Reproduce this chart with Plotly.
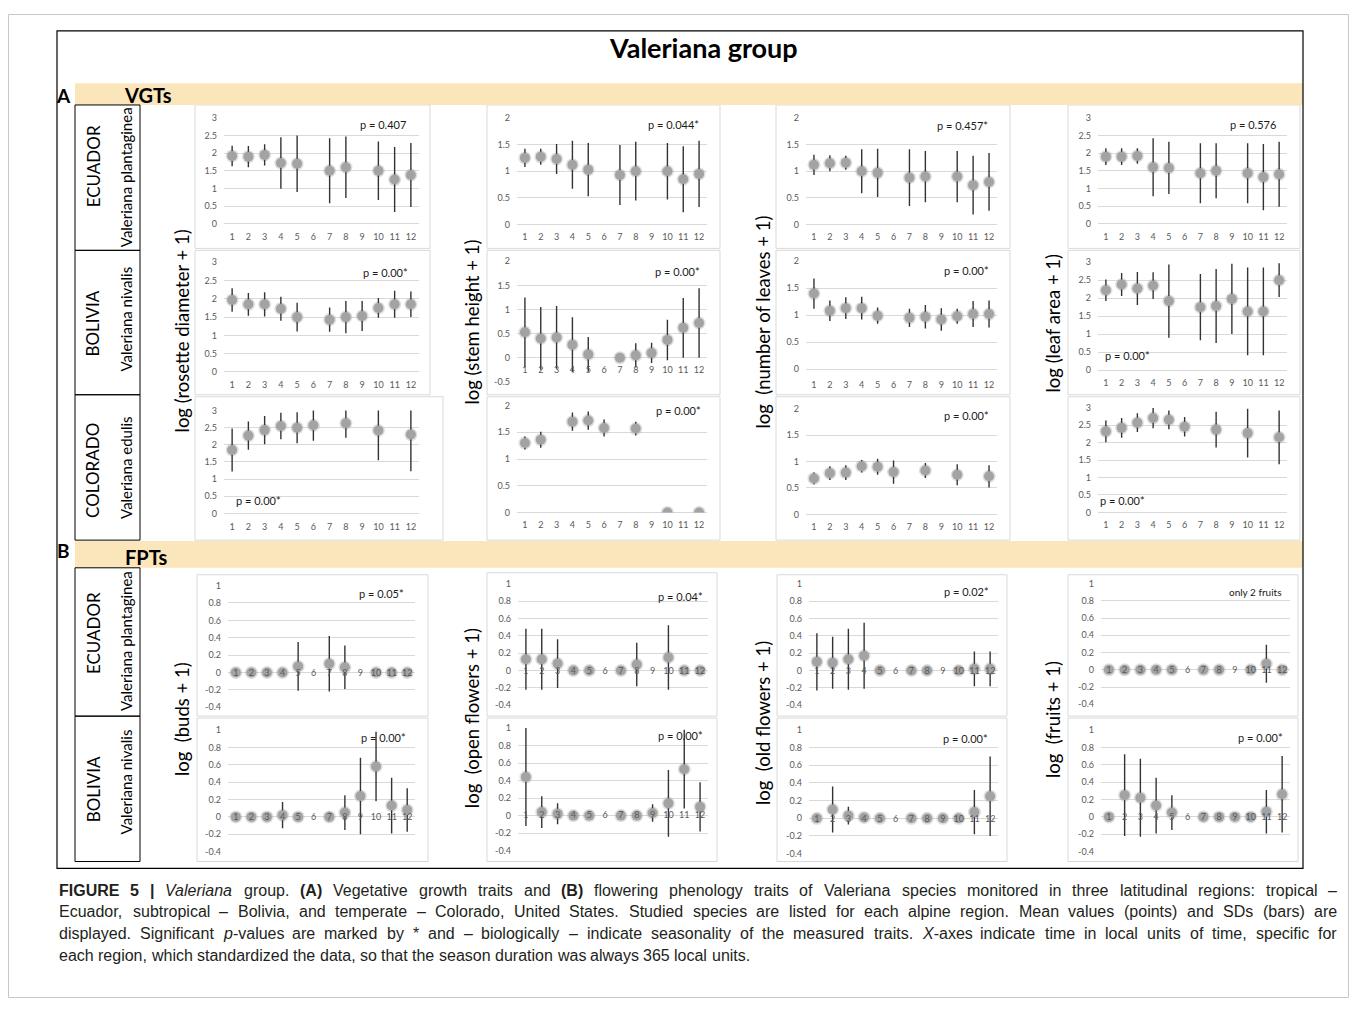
import plotly.graph_objects as go

W, H = 1357, 1011
OFF = 8  # browser page margin
FW, FH = W - 2 * OFF, H - 2 * OFF
FONT = "Lato"
CAP_FONT = "Liberation Sans"


def PX(x):
    return (x - OFF) / FW


def PY(y):
    return 1 - (y - OFF) / FH


month_labels = [str(i) for i in range(1, 13)]
month_vals = list(range(1, 13))

# ---------------- A: Vegetative growth traits (VGTs) ----------------
# Ecuador - Valeriana plantaginea
ros_ecu_x = [1, 2, 3, 4, 5, 7, 8, 10, 11, 12]
ros_ecu_m = [1.92, 1.90, 1.95, 1.72, 1.70, 1.50, 1.60, 1.50, 1.25, 1.38]
ros_ecu_sd = [0.29, 0.30, 0.30, 0.73, 0.80, 0.92, 0.87, 0.83, 0.92, 0.91]

stem_ecu_x = [1, 2, 3, 4, 5, 7, 8, 10, 11, 12]
stem_ecu_m = [1.25, 1.27, 1.23, 1.12, 1.03, 0.93, 1.00, 1.00, 0.85, 0.95]
stem_ecu_sd = [0.17, 0.15, 0.28, 0.45, 0.50, 0.56, 0.55, 0.53, 0.62, 0.62]

leaves_ecu_x = [1, 2, 3, 4, 5, 7, 8, 10, 11, 12]
leaves_ecu_m = [1.12, 1.15, 1.16, 1.00, 0.97, 0.88, 0.90, 0.90, 0.74, 0.80]
leaves_ecu_sd = [0.19, 0.15, 0.13, 0.41, 0.45, 0.53, 0.48, 0.48, 0.55, 0.54]

area_ecu_x = [1, 2, 3, 4, 5, 7, 8, 10, 11, 12]
area_ecu_m = [1.90, 1.90, 1.92, 1.60, 1.58, 1.43, 1.50, 1.43, 1.32, 1.40]
area_ecu_sd = [0.24, 0.24, 0.22, 0.82, 0.74, 0.85, 0.78, 0.85, 0.94, 0.92]

# Bolivia - Valeriana nivalis
ros_bol_x = [1, 2, 3, 4, 5, 7, 8, 9, 10, 11, 12]
ros_bol_m = [1.97, 1.85, 1.85, 1.73, 1.50, 1.43, 1.50, 1.53, 1.75, 1.85, 1.85]
ros_bol_sd = [0.32, 0.31, 0.33, 0.33, 0.39, 0.33, 0.44, 0.41, 0.27, 0.37, 0.35]

stem_bol_x = [1, 2, 3, 4, 5, 7, 8, 9, 10, 11, 12]
stem_bol_m = [0.53, 0.40, 0.42, 0.27, 0.07, 0.00, 0.05, 0.10, 0.37, 0.62, 0.72]
stem_bol_sd = [0.72, 0.65, 0.65, 0.57, 0.36, 0.02, 0.25, 0.21, 0.42, 0.62, 0.72]

leaves_bol_x = [1, 2, 3, 4, 5, 7, 8, 9, 10, 11, 12]
leaves_bol_m = [1.40, 1.08, 1.13, 1.13, 0.99, 0.95, 0.97, 0.92, 0.98, 1.02, 1.02]
leaves_bol_sd = [0.28, 0.19, 0.20, 0.21, 0.15, 0.17, 0.22, 0.21, 0.14, 0.24, 0.25]

area_bol_x = [1, 2, 3, 4, 5, 7, 8, 9, 10, 11, 12]
area_bol_m = [2.22, 2.38, 2.27, 2.35, 1.92, 1.75, 1.78, 1.98, 1.63, 1.63, 2.50]
area_bol_sd = [0.30, 0.32, 0.46, 0.37, 1.02, 0.92, 1.03, 0.98, 1.22, 1.22, 0.47]

# Colorado - Valeriana edulis
ros_col_x = [1, 2, 3, 4, 5, 6, 8, 10, 12]
ros_col_m = [1.85, 2.27, 2.43, 2.55, 2.50, 2.57, 2.63, 2.42, 2.30]
ros_col_sd = [0.63, 0.41, 0.41, 0.39, 0.45, 0.45, 0.42, 0.87, 1.07]

stem_col_x = [1, 2, 4, 5, 6, 8, 10, 12]
stem_col_m = [1.30, 1.36, 1.70, 1.72, 1.58, 1.57, 0.00, 0.00]
stem_col_sd = [0.12, 0.15, 0.17, 0.17, 0.16, 0.13, 0.00, 0.00]

leaves_col_x = [1, 2, 3, 4, 5, 6, 8, 10, 12]
leaves_col_m = [0.68, 0.78, 0.79, 0.91, 0.90, 0.80, 0.83, 0.75, 0.72]
leaves_col_sd = [0.11, 0.13, 0.14, 0.12, 0.15, 0.22, 0.14, 0.20, 0.21]

area_col_x = [1, 2, 3, 4, 5, 6, 8, 10, 12]
area_col_m = [2.32, 2.42, 2.57, 2.70, 2.65, 2.45, 2.37, 2.27, 2.15]
area_col_sd = [0.31, 0.28, 0.27, 0.29, 0.27, 0.28, 0.51, 0.70, 0.77]

# ---------------- B: Flowering phenology traits (FPTs) ----------------
buds_ecu_x = [1, 2, 3, 4, 5, 7, 8, 10, 11, 12]
buds_ecu_m = [0.00, 0.00, 0.00, 0.00, 0.07, 0.10, 0.06, 0.00, 0.00, 0.00]
buds_ecu_sd = [0.04, 0.00, 0.00, 0.00, 0.28, 0.32, 0.25, 0.00, 0.00, 0.00]

open_ecu_x = [1, 2, 3, 4, 5, 7, 8, 10, 11, 12]
open_ecu_m = [0.13, 0.13, 0.08, 0.00, 0.00, 0.00, 0.07, 0.15, 0.00, 0.00]
open_ecu_sd = [0.35, 0.35, 0.28, 0.00, 0.00, 0.00, 0.25, 0.37, 0.00, 0.00]

old_ecu_x = [1, 2, 3, 4, 5, 7, 8, 10, 11, 12]
old_ecu_m = [0.10, 0.09, 0.13, 0.17, 0.00, 0.00, 0.00, 0.00, 0.02, 0.02]
old_ecu_sd = [0.33, 0.30, 0.35, 0.38, 0.00, 0.00, 0.00, 0.00, 0.20, 0.20]

fruits_ecu_x = [1, 2, 3, 4, 5, 7, 8, 10, 11, 12]
fruits_ecu_m = [0.00, 0.00, 0.00, 0.00, 0.00, 0.00, 0.00, 0.00, 0.07, 0.00]
fruits_ecu_sd = [0.00, 0.00, 0.00, 0.00, 0.00, 0.00, 0.00, 0.00, 0.22, 0.00]

buds_bol_x = [1, 2, 3, 4, 5, 7, 8, 9, 10, 11, 12]
buds_bol_m = [0.00, 0.00, 0.00, 0.02, 0.00, 0.00, 0.05, 0.24, 0.58, 0.13, 0.08]
buds_bol_sd = [0.00, 0.00, 0.00, 0.15, 0.00, 0.06, 0.20, 0.44, 0.40, 0.32, 0.25]

open_bol_x = [1, 2, 3, 4, 5, 7, 8, 9, 10, 11, 12]
open_bol_m = [0.44, 0.04, 0.02, 0.00, 0.00, 0.00, 0.00, 0.03, 0.14, 0.53, 0.10]
open_bol_sd = [0.56, 0.18, 0.12, 0.00, 0.00, 0.00, 0.00, 0.10, 0.38, 0.45, 0.28]

old_bol_x = [1, 2, 3, 4, 5, 7, 8, 9, 10, 11, 12]
old_bol_m = [0.00, 0.10, 0.03, 0.01, 0.00, 0.00, 0.00, 0.00, 0.00, 0.07, 0.25]
old_bol_sd = [0.00, 0.26, 0.10, 0.04, 0.00, 0.00, 0.00, 0.00, 0.00, 0.25, 0.45]

fruits_bol_x = [1, 2, 3, 4, 5, 7, 8, 9, 10, 11, 12]
fruits_bol_m = [0.00, 0.25, 0.22, 0.13, 0.05, 0.00, 0.00, 0.00, 0.00, 0.06, 0.26]
fruits_bol_sd = [0.00, 0.47, 0.45, 0.32, 0.20, 0.00, 0.00, 0.00, 0.00, 0.25, 0.44]

# tick sets
yt_3 = [0, 0.5, 1, 1.5, 2, 2.5, 3]
yt_2 = [0, 0.5, 1, 1.5, 2]
yt_2n = [-0.5, 0, 0.5, 1, 1.5, 2]
yt_1n = [-0.4, -0.2, 0, 0.2, 0.4, 0.6, 0.8, 1]

p_texts = ["p = 0.407", "p = 0.044*", "p = 0.457*", "p = 0.576",
           "p = 0.00*", "only 2 fruits", "p = 0.05*", "p = 0.04*", "p = 0.02*"]


def fmt(v):
    return "%g" % v


# geometry (pixels)
A_cols = [(224, 419), (517, 707), (806, 997), (1098, 1287)]
B_cols = [(228, 415), (518, 708), (809, 998), (1101, 1290)]

panels = [
    # x, mean, sd, yticks, col(l,r), (top_px, bottom_px), label_y, p text, p (x,y)
    (ros_ecu_x, ros_ecu_m, ros_ecu_sd, yt_3, A_cols[0], (113, 220), 234, p_texts[0], (383, 120)),
    (stem_ecu_x, stem_ecu_m, stem_ecu_sd, yt_2, A_cols[1], (113, 221), 234, p_texts[1], (673, 120)),
    (leaves_ecu_x, leaves_ecu_m, leaves_ecu_sd, yt_2, A_cols[2], (113, 221), 234, p_texts[2], (963, 121)),
    (area_ecu_x, area_ecu_m, area_ecu_sd, yt_3, A_cols[3], (113, 220), 234, p_texts[3], (1253, 120)),
    (ros_bol_x, ros_bol_m, ros_bol_sd, yt_3, A_cols[0], (259, 370), 384, p_texts[4], (385, 269)),
    (stem_bol_x, stem_bol_m, stem_bol_sd, yt_2n, A_cols[1], (258, 380), 369, p_texts[4], (677, 268)),
    (leaves_bol_x, leaves_bol_m, leaves_bol_sd, yt_2, A_cols[2], (258, 367), 384, p_texts[4], (967, 267)),
    (area_bol_x, area_bol_m, area_bol_sd, yt_3, A_cols[3], (259, 368), 382, p_texts[4], (1127, 353)),
    (ros_col_x, ros_col_m, ros_col_sd, yt_3, A_cols[0], (409, 513), 528, p_texts[4], (258, 500)),
    (stem_col_x, stem_col_m, stem_col_sd, yt_2, A_cols[1], (404, 512), 526, p_texts[4], (678, 409)),
    (leaves_col_x, leaves_col_m, leaves_col_sd, yt_2, A_cols[2], (407, 514), 528, p_texts[4], (967, 414)),
    (area_col_x, area_col_m, area_col_sd, yt_3, A_cols[3], (406, 512), 526, p_texts[4], (1122, 500)),
    (buds_ecu_x, buds_ecu_m, buds_ecu_sd, yt_1n, B_cols[0], (586, 709), 675, p_texts[6], (381, 594)),
    (open_ecu_x, open_ecu_m, open_ecu_sd, yt_1n, B_cols[1], (584, 707), 673, p_texts[7], (680, 597)),
    (old_ecu_x, old_ecu_m, old_ecu_sd, yt_1n, B_cols[2], (584, 707), 673, p_texts[8], (967, 592)),
    (fruits_ecu_x, fruits_ecu_m, fruits_ecu_sd, yt_1n, B_cols[3], (584, 706), 672, p_texts[5], (1255, 592)),
    (buds_bol_x, buds_bol_m, buds_bol_sd, yt_1n, B_cols[0], (732, 855), 821, p_texts[4], (384, 740)),
    (open_bol_x, open_bol_m, open_bol_sd, yt_1n, B_cols[1], (730, 854), 819, p_texts[4], (680, 738)),
    (old_bol_x, old_bol_m, old_bol_sd, yt_1n, B_cols[2], (732, 857), 823, p_texts[4], (965, 741)),
    (fruits_bol_x, fruits_bol_m, fruits_bol_sd, yt_1n, B_cols[3], (732, 855), 821, p_texts[4], (1260, 740)),
]

panel_boxes = [
    (195, 100, 430, 245), (487, 100, 720, 245), (776, 100, 1010, 245), (1068, 100, 1300, 245),
    (195, 247, 430, 393), (487, 247, 720, 393), (776, 247, 1010, 393), (1068, 247, 1300, 393),
    (195, 395, 443, 540), (487, 395, 720, 540), (776, 395, 1010, 540), (1068, 395, 1300, 540),
    (197, 575, 428, 718), (487, 573, 717, 718), (777, 575, 1007, 718), (1068, 575, 1298, 718),
    (197, 720, 428, 865), (487, 720, 717, 865), (777, 720, 1007, 865), (1068, 720, 1298, 865),
]

fig = go.Figure()
layout = {}
annotations = []
shapes = []

TICKFONT = dict(family=FONT, size=9, color="#595959")


def ann(text, x, y, size, angle=0, xanchor="center", family=FONT, color="#000000"):
    annotations.append(dict(text=text, x=PX(x), y=PY(y), xref="paper", yref="paper",
                            showarrow=False, xanchor=xanchor, yanchor="middle", textangle=angle,
                            font=dict(family=family, size=size, color=color)))


for i, (xs, ms, sds, yt, (l, r), (ptop, pbot), laby, ptxt, (ppx, ppy)) in enumerate(panels, start=1):
    sfx = "" if i == 1 else str(i)
    fig.add_trace(go.Scatter(
        x=xs, y=ms, mode="markers",
        marker=dict(size=13, color="rgba(160,160,160,0.35)", line=dict(width=0)),
        xaxis="x" + sfx, yaxis="y" + sfx, showlegend=False, hoverinfo="skip"))
    fig.add_trace(go.Scatter(
        x=xs, y=ms, mode="markers",
        error_y=dict(type="data", array=sds, visible=True, color="#333333", thickness=1.4, width=0),
        marker=dict(size=10, color="#a3a3a3", line=dict(width=0)),
        xaxis="x" + sfx, yaxis="y" + sfx, showlegend=False, hoverinfo="skip"))
    ymin, ymax = yt[0], yt[-1]
    layout["xaxis" + sfx] = dict(
        domain=[PX(l), PX(r)], range=[0.5, 12.5], tickmode="array",
        tickvals=month_vals, ticktext=month_labels, showgrid=False, zeroline=False,
        showline=False, ticks="", tickfont=TICKFONT, anchor="free",
        position=PY(laby - 8), fixedrange=True)
    layout["yaxis" + sfx] = dict(
        domain=[PY(pbot), PY(ptop)], range=[ymin, ymax], tickmode="array",
        tickvals=yt, ticktext=[fmt(v) for v in yt], showgrid=True, gridcolor="#d9d9d9",
        gridwidth=1, zeroline=True, zerolinecolor="#d9d9d9", zerolinewidth=1,
        showline=False, ticks="", tickfont=TICKFONT, anchor="x" + sfx,
        ticklabelstandoff=6, fixedrange=True)
    ann(ptxt, ppx, ppy, 10 if ptxt == "only 2 fruits" else 11, color="#1a1a1a")

for (x0, y0, x1, y1) in panel_boxes:
    shapes.append(dict(type="rect", xref="paper", yref="paper", x0=PX(x0), x1=PX(x1),
                       y0=PY(y1), y1=PY(y0), line=dict(color="#d9d9d9", width=1), layer="below"))

# outer chart frame
shapes.append(dict(type="rect", xref="paper", yref="paper", x0=PX(57), x1=PX(1303),
                   y0=PY(872), y1=PY(25), line=dict(color="#000000", width=1.2)))
# light outer figure frame
shapes.append(dict(type="rect", xref="paper", yref="paper", x0=PX(8.5), x1=PX(1348.5),
                   y0=PY(1002.5), y1=PY(8.5), line=dict(color="#c8c8c8", width=1)))

# section bands
BAND = "#fbe5bb"
for (y0, y1) in [(78, 100), (541, 568)]:
    shapes.append(dict(type="rect", xref="paper", yref="paper", x0=PX(75), x1=PX(1303),
                       y0=PY(y1), y1=PY(y0), fillcolor=BAND, line=dict(width=0), layer="below"))

# region label boxes
for (y0, y1) in [(100, 247), (247, 393), (393, 540), (568, 718), (718, 865)]:
    shapes.append(dict(type="rect", xref="paper", yref="paper", x0=PX(75), x1=PX(140),
                       y0=PY(y1), y1=PY(y0), line=dict(color="#000000", width=1)))

# titles and labels
ann("<b>Valeriana group</b>", 703, 42, 27)
ann("<b>A</b>", 63, 90, 19)
ann("<b>VGTs</b>", 148, 90, 20)
ann("<b>B</b>", 63, 551, 19)
ann("<b>FPTs</b>", 146, 557, 20)

regions = [("ECUADOR", 93, 162), ("BOLIVIA", 93, 321), ("COLORADO", 93, 470),
           ("ECUADOR", 93, 634), ("BOLIVIA", 93, 792)]
species = [("Valeriana plantaginea", 126, 173), ("Valeriana nivalis", 126, 317),
           ("Valeriana edulis", 126, 467), ("Valeriana plantaginea", 126, 642),
           ("Valeriana nivalis", 126, 785)]
for reg, x, yc in regions:
    ann(reg, x, yc, 17, angle=-90)
for sp, x, yc in species:
    ann(sp, x, yc, 15, angle=-90)

ytitles = [("log (rosette diameter + 1)", 182, 328), ("log (stem height + 1)", 472, 320),
           ("log  (number of leaves + 1)", 763, 320), ("log (leaf area + 1)", 1053, 321),
           ("log  (buds + 1)", 182, 721), ("log  (open flowers + 1)", 472, 720),
           ("log  (old flowers + 1)", 763, 725), ("log  (fruits + 1)", 1053, 722)]
for t, x, y in ytitles:
    ann(t, x, y, 18.5, angle=-90)

# ---------------- caption (justified like the journal layout) ----------------
_AR = {' ': 278, '!': 278, '(': 333, ')': 333, '*': 389, ',': 278, '-': 333, '.': 278,
       ':': 278, '|': 260, '–': 556,
       'A': 667, 'B': 667, 'C': 722, 'D': 722, 'E': 667, 'F': 611, 'G': 778, 'H': 722, 'I': 278,
       'J': 500, 'K': 667, 'L': 556, 'M': 833, 'N': 722, 'O': 778, 'P': 667, 'Q': 778, 'R': 722,
       'S': 667, 'T': 611, 'U': 722, 'V': 667, 'W': 944, 'X': 667, 'Y': 667, 'Z': 611,
       'a': 556, 'b': 556, 'c': 500, 'd': 556, 'e': 556, 'f': 278, 'g': 556, 'h': 556, 'i': 222,
       'j': 222, 'k': 500, 'l': 222, 'm': 833, 'n': 556, 'o': 556, 'p': 556, 'q': 556, 'r': 333,
       's': 500, 't': 278, 'u': 556, 'v': 500, 'w': 722, 'x': 500, 'y': 500, 'z': 500}
_ARB = dict(_AR)
_ARB.update({'A': 722, 'B': 722, 'R': 722, '|': 280, 'U': 722, 'G': 778, 'E': 667, 'I': 278,
             'F': 611, '(': 333, ')': 333})


def word_width(segs, size):
    w = 0
    for txt, bold in segs:
        tab = _ARB if bold else _AR
        w += sum(tab.get(c, 556) for c in txt)
    return w * size / 1000.0


def seg_html(segs):
    out = ""
    for txt, bold, ital in segs:
        t = txt
        if ital:
            t = "<i>" + t + "</i>"
        if bold:
            t = "<b>" + t + "</b>"
        out += t
    return out


cap_lines = [
    [[("FIGURE", 1, 0)], [("5", 1, 0)], [("|", 1, 0)], [("Valeriana", 0, 1)], [("group.", 0, 0)],
     [("(A)", 1, 0)]] + [[(w, 0, 0)] for w in "Vegetative growth traits and".split()] + [[("(B)", 1, 0)]] +
    [[(w, 0, 0)] for w in "flowering phenology traits of Valeriana species monitored in three latitudinal regions: tropical –".split()],
    [[(w, 0, 0)] for w in "Ecuador, subtropical – Bolivia, and temperate – Colorado, United States. Studied species are listed for each alpine region. Mean values (points) and SDs (bars) are".split()],
    [[(w, 0, 0)] for w in "displayed. Significant".split()] + [[("p", 0, 1), ("-values", 0, 0)]] +
    [[(w, 0, 0)] for w in "are marked by * and – biologically – indicate seasonality of the measured traits.".split()] +
    [[("X", 0, 1), ("-axes", 0, 0)]] +
    [[(w, 0, 0)] for w in "indicate time in local units of time, specific for".split()],
    [[(w, 0, 0)] for w in "each region, which standardized the data, so that the season duration was always 365 local units.".split()],
]
CAP_SIZE = 16
CAP_LEFT, CAP_RIGHT = 57, 1335
for k, words in enumerate(cap_lines):
    ycap = 894 + 22 * k
    widths = [word_width([(t, b) for t, b, _ in w], CAP_SIZE) for w in words]
    space = 278 * CAP_SIZE / 1000.0
    if k < len(cap_lines) - 1:
        gap = (CAP_RIGHT - CAP_LEFT - sum(widths)) / (len(words) - 1)
    else:
        gap = space
    xcur = CAP_LEFT
    for w, ww in zip(words, widths):
        ann(seg_html(w), xcur, ycap, CAP_SIZE, xanchor="left", family=CAP_FONT, color="#231f20")
        xcur += ww + gap

layout.update(dict(width=FW, height=FH, margin=dict(l=0, r=0, t=0, b=0), paper_bgcolor="white",
                   plot_bgcolor="rgba(0,0,0,0)", annotations=annotations, shapes=shapes,
                   showlegend=False))
fig.update_layout(**layout)
fig.write_html("out.html")
